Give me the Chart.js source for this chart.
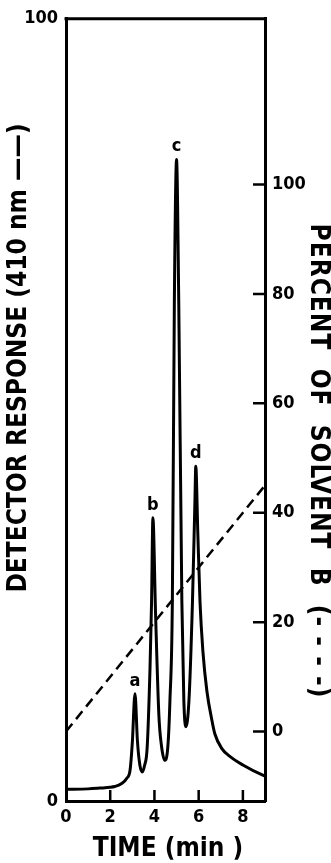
<!DOCTYPE html>
<html>
<head>
<meta charset="utf-8">
<script src="https://cdn.jsdelivr.net/npm/chart.js@4"></script>
<style>
  html, body { margin: 0; padding: 0; background: #fff; }
  canvas { display: block; }
</style>
</head>
<body>
<canvas id="chrom" width="331" height="863"></canvas>
<script>
// chromatogram trace (time in min, detector response 0-100)
const timeMin = [0, 1.0, 1.54, 2.0, 2.2, 2.5, 2.75, 2.9, 3.0, 3.12, 3.23, 3.34, 3.45, 3.55, 3.67, 3.8, 3.87, 3.93,
                 4.05, 4.2, 4.32, 4.47, 4.61, 4.7, 4.81, 4.9, 5.0, 5.1, 5.24, 5.33, 5.42, 5.56, 5.72, 5.83, 5.87,
                 5.96, 6.06, 6.19, 6.37, 6.6, 6.73, 7.05, 7.41, 8.0, 8.9, 9.0];
const detector = [1.5, 1.55, 1.65, 1.75, 1.85, 2.2, 2.9, 4.0, 7.5, 13.7, 7.7, 4.6, 3.7, 4.5, 6.8, 17, 25.5, 36.2,
                  24, 11, 7, 5.2, 7.1, 12.8, 25.5, 63.6, 82, 63.6, 25.5, 12.8, 9.5, 12.8, 25.5, 38.2, 42.8,
                  34.4, 25.5, 19.2, 14.1, 10.3, 8.6, 6.7, 5.7, 4.6, 3.3, 3.2];

// solvent B gradient (percent)
const gradTime = [0, 9];
const gradPct = [0, 45];

// peak letters
const peakNames = ['a', 'b', 'c', 'd'];
const peakTime = [3.12, 3.93, 5.0, 5.87];
const peakHeight = [13.7, 36.2, 82, 42.8];

// axis ticks
const xTicks = [0, 2, 4, 6, 8];
const leftTicks = [0, 100];
const rightTicks = [0, 20, 40, 60, 80, 100];

const FONT = '"DejaVu Sans Condensed", "DejaVu Sans", sans-serif';
Chart.defaults.font.family = FONT;
Chart.defaults.color = '#000';

// top border, inward tick marks, peak letters and axis titles
const extras = {
    id: 'extras',
    afterDatasetsDraw(chart) {
        const ctx = chart.ctx;
        const area = chart.chartArea;
        const x = chart.scales.x, y = chart.scales.y, y2 = chart.scales.y2;
        ctx.save();
        ctx.strokeStyle = '#000';
        ctx.lineWidth = 3;
        ctx.beginPath();
        ctx.moveTo(area.left - 1.5, area.top);
        ctx.lineTo(area.right + 1.5, area.top);
        ctx.stroke();
        ctx.lineWidth = 2.5;
        ctx.beginPath();
        xTicks.forEach(v => {
            if (v === 0) return;
            const px = x.getPixelForValue(v);
            ctx.moveTo(px, area.bottom);
            ctx.lineTo(px, area.bottom - 11);
        });
        rightTicks.forEach(v => {
            const py = y2.getPixelForValue(v);
            ctx.moveTo(area.right, py);
            ctx.lineTo(area.right - 12, py);
        });
        ctx.stroke();

        ctx.fillStyle = '#000';
        ctx.font = 'bold 18px ' + FONT;
        ctx.textAlign = 'center';
        ctx.textBaseline = 'bottom';
        peakNames.forEach((n, i) => {
            ctx.fillText(n, x.getPixelForValue(peakTime[i]), y.getPixelForValue(peakHeight[i]) - 4);
        });

        ctx.font = 'bold 26px ' + FONT;
        ctx.textBaseline = 'middle';
        ctx.fillText('TIME (min )', 168, 849);

        ctx.save();
        ctx.translate(19, 358);
        ctx.rotate(-Math.PI / 2);
        ctx.fillText('DETECTOR RESPONSE (410 nm \u2014\u2014)', 0, 0);
        ctx.restore();

        ctx.save();
        ctx.translate(318, 461);
        ctx.rotate(Math.PI / 2);
        ctx.letterSpacing = '1px';
        ctx.fillText('PERCENT  OF  SOLVENT  B  (- - - -)', 0, 0);
        ctx.restore();
        ctx.restore();
    }
};

const axisBorder = { display: true, color: '#000', width: 3 };
const tickFont = { family: FONT, size: 18, weight: 'bold' };

new Chart(document.getElementById('chrom'), {
    type: 'scatter',
    data: {
        datasets: [
            {
                label: 'Detector response',
                data: timeMin.map((t, i) => ({ x: t, y: detector[i] })),
                showLine: true,
                borderColor: '#000',
                borderWidth: 3,
                pointRadius: 0,
                cubicInterpolationMode: 'monotone',
                yAxisID: 'y'
            },
            {
                label: 'Percent of solvent B',
                data: gradTime.map((t, i) => ({ x: t, y: gradPct[i] })),
                showLine: true,
                borderColor: '#000',
                borderWidth: 2.5,
                borderDash: [10, 6],
                pointRadius: 0,
                yAxisID: 'y2'
            }
        ]
    },
    options: {
        responsive: false,
        animation: false,
        layout: { padding: { top: 13 } },
        plugins: { legend: { display: false }, tooltip: { enabled: false } },
        scales: {
            x: {
                type: 'linear', min: 0, max: 9,
                afterBuildTicks: s => { s.ticks = xTicks.map(v => ({ value: v })); },
                afterFit: s => { s.height = 62; },
                grid: { display: false, drawTicks: false },
                border: axisBorder,
                ticks: { color: '#000', font: tickFont, padding: 6 }
            },
            y: {
                position: 'left', min: 0, max: 100,
                afterBuildTicks: s => { s.ticks = leftTicks.map(v => ({ value: v })); },
                afterFit: s => { s.width = 66; },
                grid: { display: false, drawTicks: false },
                border: axisBorder,
                ticks: { color: '#000', font: tickFont, padding: 8 }
            },
            y2: {
                position: 'right', min: -12.7, max: 130.3,
                afterBuildTicks: s => { s.ticks = rightTicks.map(v => ({ value: v })); },
                afterFit: s => { s.width = 66; },
                grid: { display: false, drawTicks: false },
                border: axisBorder,
                ticks: { color: '#000', font: tickFont, padding: 7 }
            }
        }
    },
    plugins: [extras]
});
</script>
</body>
</html>
